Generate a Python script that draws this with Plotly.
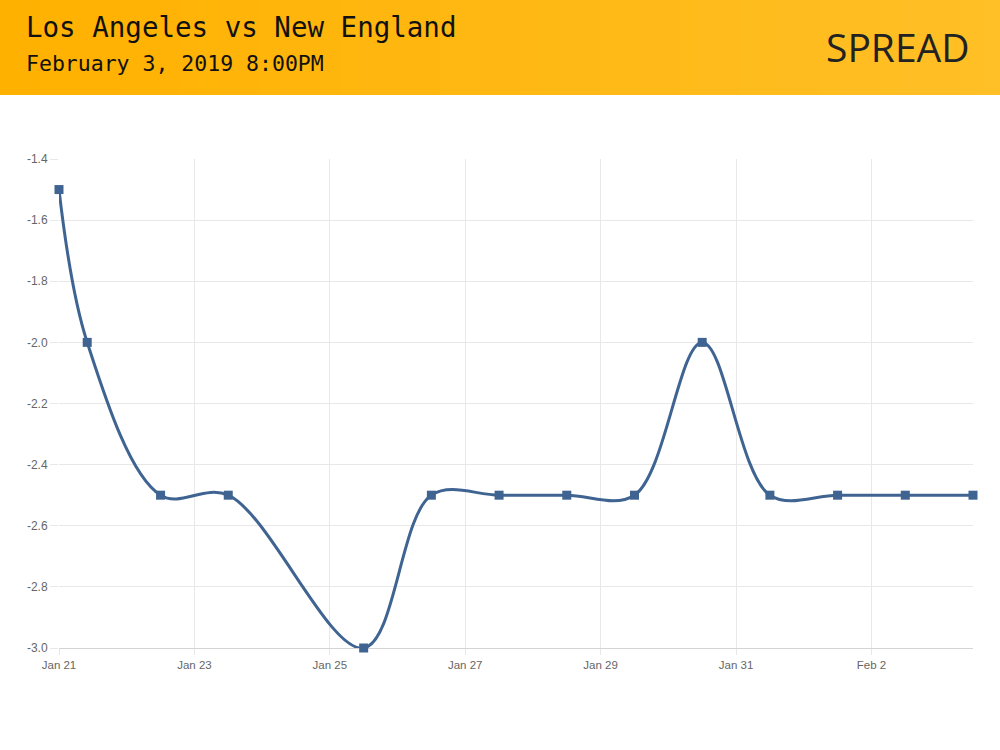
import plotly.graph_objects as go

# ---- data ----
timestamps = [
    "2019-01-21 00:00", "2019-01-21 10:00", "2019-01-22 12:00", "2019-01-23 12:00",
    "2019-01-25 12:00", "2019-01-26 12:00", "2019-01-27 12:00", "2019-01-28 12:00",
    "2019-01-29 12:00", "2019-01-30 12:00", "2019-01-31 12:00", "2019-02-01 12:00",
    "2019-02-02 12:00", "2019-02-03 12:00",
]
spread = [-1.5, -2.0, -2.5, -2.5, -3.0, -2.5, -2.5, -2.5, -2.5, -2.0, -2.5, -2.5, -2.5, -2.5]

y_tickvals = [-1.4, -1.6, -1.8, -2.0, -2.2, -2.4, -2.6, -2.8, -3.0]
y_ticktext = ["-1.4", "-1.6", "-1.8", "-2.0", "-2.2", "-2.4", "-2.6", "-2.8", "-3.0"]

title_text = "Los Angeles vs New England"
subtitle_text = "February 3, 2019 8:00PM"
badge_text = "SPREAD"

# ---- layout geometry ----
W, H = 1000, 750
L, R, T, B = 59, 27, 159, 102
plot_w = W - L - R
plot_h = H - T - B


def px_to_paper_x(px):
    return (px - L) / plot_w


def px_to_paper_y(py):
    return (H - B - py) / plot_h


line_color = "#3f6491"

fig = go.Figure()
fig.add_trace(go.Scatter(
    x=timestamps, y=spread, mode="lines+markers",
    line=dict(color=line_color, width=3, shape="spline", smoothing=1.0),
    marker=dict(symbol="square", size=9, color=line_color),
    cliponaxis=False,
    hoverinfo="x+y", showlegend=False,
))

# header gradient via stripes
shapes = []
n = 50
c0 = (255, 177, 0)
c1 = (255, 191, 38)
for i in range(n):
    t = i / (n - 1)
    col = "rgb(%d,%d,%d)" % tuple(round(c0[k] + (c1[k] - c0[k]) * t) for k in range(3))
    x0 = i * W / n
    x1 = (i + 1) * W / n + 1
    shapes.append(dict(
        type="rect", xref="paper", yref="paper",
        x0=px_to_paper_x(x0), x1=px_to_paper_x(x1),
        y0=px_to_paper_y(95), y1=px_to_paper_y(-2),
        fillcolor=col, line=dict(width=0), layer="below",
    ))

annotations = [
    dict(text=title_text, xref="paper", yref="paper",
         x=px_to_paper_x(24), y=px_to_paper_y(27), xanchor="left", yanchor="middle",
         showarrow=False, font=dict(family="DejaVu Sans Mono", size=27.5, color="#111")),
    dict(text=subtitle_text, xref="paper", yref="paper",
         x=px_to_paper_x(24), y=px_to_paper_y(63.5), xanchor="left", yanchor="middle",
         showarrow=False, font=dict(family="DejaVu Sans Mono", size=21.5, color="#111")),
    dict(text=badge_text, xref="paper", yref="paper",
         x=px_to_paper_x(972), y=px_to_paper_y(47), xanchor="right", yanchor="middle",
         showarrow=False, font=dict(family="Open Sans", size=39, color="#222")),
]

fig.update_layout(
    width=W, height=H,
    margin=dict(l=L, r=R, t=T, b=B, pad=0),
    paper_bgcolor="white", plot_bgcolor="white",
    shapes=shapes, annotations=annotations,
    font=dict(family="Liberation Sans, Arial, sans-serif", size=11.5, color="#666"),
    xaxis=dict(
        type="date",
        range=["2019-01-21 00:00", "2019-02-03 12:00"],
        tick0="2019-01-21", dtick=2 * 86400000, tickformat="%b %-d",
        showgrid=True, gridcolor="#e8e8e8", gridwidth=1,
        ticks="outside", ticklen=6, tickcolor="#e8e8e8",
        showline=True, linecolor="#d4d4d4", linewidth=1,
        zeroline=False, fixedrange=True, layer="below traces",
    ),
    yaxis=dict(
        range=[-3.0, -1.4],
        tickvals=y_tickvals, ticktext=y_ticktext,
        tickfont=dict(size=12),
        showgrid=True, gridcolor="#e8e8e8", gridwidth=1,
        ticks="outside", ticklen=8, tickcolor="#e8e8e8",
        showline=False, zeroline=False, fixedrange=True, layer="below traces",
    ),
)

fig.write_html(
    "out.html",
    config={"displayModeBar": False},
    post_script="document.body.style.margin='0';document.body.style.overflow='hidden';",
)
